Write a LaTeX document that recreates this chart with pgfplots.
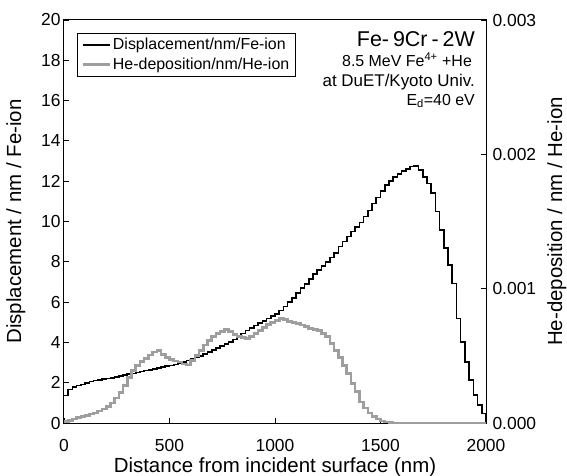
\documentclass[border=0pt]{standalone}
\usepackage{fontspec}
\setmainfont{Liberation Sans}
\usepackage{pgfplots}
\usepackage{pgfplotstable}
\pgfplotsset{compat=1.18}
\definecolor{hegray}{RGB}{158,158,158}

\pgfplotstableread{
x y
0 1.36
20 1.67
40 1.80
60 1.87
80 1.92
100 2.00
120 2.05
140 2.10
160 2.13
180 2.17
200 2.20
220 2.24
240 2.28
260 2.33
280 2.37
300 2.42
320 2.46
340 2.51
360 2.56
380 2.60
400 2.64
420 2.68
440 2.72
460 2.78
480 2.82
500 2.86
520 2.90
540 2.96
560 3.03
580 3.10
600 3.18
620 3.25
640 3.33
660 3.41
680 3.52
700 3.62
720 3.72
740 3.82
760 3.92
780 4.03
800 4.14
820 4.25
840 4.45
860 4.60
880 4.72
900 4.84
920 4.95
940 5.06
960 5.18
980 5.30
1000 5.42
1020 5.58
1040 5.78
1060 6.00
1080 6.20
1100 6.45
1120 6.70
1140 6.90
1160 7.15
1180 7.40
1200 7.60
1220 7.80
1240 8.00
1260 8.22
1280 8.45
1300 8.75
1320 9.00
1340 9.25
1360 9.50
1380 9.72
1400 9.95
1420 10.25
1440 10.55
1460 10.90
1480 11.20
1500 11.50
1520 11.80
1540 12.00
1560 12.20
1580 12.35
1600 12.50
1620 12.62
1640 12.72
1660 12.75
1680 12.56
1700 12.22
1720 11.89
1740 11.40
1760 10.49
1780 9.58
1800 8.67
1820 7.84
1840 6.93
1860 5.19
1880 4.03
1900 3.04
1920 2.13
1940 1.39
1960 0.89
1980 0.48
2000 0.0
}\dispdata

\pgfplotstableread{
x y
0 0.0000105
20 0.000018
40 0.000030
60 0.0000405
80 0.0000495
100 0.000057
120 0.000066
140 0.000075
160 0.000090
180 0.000105
200 0.000123
220 0.000150
240 0.0001875
260 0.000225
280 0.0002775
300 0.0003375
320 0.000390
340 0.0004275
360 0.000456
380 0.000480
400 0.0005055
420 0.000528
440 0.0005385
460 0.000510
480 0.0004875
500 0.0004725
520 0.000462
540 0.000453
560 0.000438
580 0.000432
600 0.000465
620 0.0005025
640 0.000540
660 0.0005805
680 0.000615
700 0.000645
720 0.0006675
740 0.0006825
760 0.0006975
780 0.0006825
800 0.000660
820 0.000645
840 0.0006375
860 0.000630
880 0.000645
900 0.0006675
920 0.000690
940 0.0007125
960 0.000732
980 0.000750
1000 0.000765
1020 0.0007785
1040 0.0007725
1060 0.0007575
1080 0.000750
1100 0.0007425
1120 0.000729
1140 0.000720
1160 0.000705
1180 0.0006975
1200 0.000687
1220 0.0006675
1240 0.000645
1260 0.0005925
1280 0.000540
1300 0.0004875
1320 0.0004275
1340 0.0003705
1360 0.0002925
1380 0.0002325
1400 0.0001575
1420 0.0001125
1440 0.000075
1460 0.000048
1480 0.000030
1500 0.000015
1520 0.0000075
1540 0.000003
1560 0.0
1600 0.0
1700 0.0
1800 0.0
1900 0.0
2000 0.0
}\hedata

\begin{document}
\begin{tikzpicture}
\path[use as bounding box] (-64bp,-53bp) rectangle (503bp,423bp);
\begin{axis}[
  at={(0,0)}, anchor=south west,
  scale only axis, width=422bp, height=403bp,
  xmin=0, xmax=2000, ymin=0, ymax=20,
  xtick={0,500,...,2000}, ytick={0,2,...,20},
  xtick pos=bottom, ytick pos=left,
  xtick align=inside, ytick align=inside,
  major tick length=5bp,
  axis line style={line width=1bp},
  every tick/.style={black, line width=0.8bp},
  /pgf/number format/assume math mode=true,
  /pgf/number format/1000 sep={},
  tick label style={font=\fontsize{17.5}{20}\selectfont},
  xticklabel style={yshift=-13bp},
  xlabel={Distance from incident surface (nm)},
  ylabel={Displacement / nm / Fe-ion},
  every axis x label/.style={at={(axis description cs:0.5,-0.109)}, anchor=center},
  every axis y label/.style={at={(axis description cs:-0.114,0.5)}, rotate=90, anchor=center},
  label style={font=\fontsize{20.5}{24}\selectfont},
  legend style={at={(0.031,0.968)}, anchor=north west, draw=black, line width=0.6bp,
    font=\fontsize{16}{19}\selectfont, inner xsep=4bp, inner ysep=3bp, row sep=3bp},
  legend cell align=left,
  legend image code/.code={\draw[#1] (0bp,0bp) -- (27bp,0bp);},
]
\addplot[const plot mark left, black, line width=1.6bp] table[x=x,y=y] {\dispdata};
\addlegendentry{Displacement/nm/Fe-ion}
\addlegendimage{hegray, line width=2.6bp}
\addlegendentry{He-deposition/nm/He-ion}
\node[anchor=base east, font=\fontsize{21.5}{24}\selectfont, inner sep=0pt] at (rel axis cs:0.974,0.935) {Fe-\hspace{4bp}9Cr\hspace{4bp}-\hspace{4bp}2W};
\node[anchor=base east, font=\fontsize{16}{19}\selectfont, inner sep=0pt] at (rel axis cs:0.967,0.884) {8.5 MeV Fe\textsuperscript{4+} +He};
\node[anchor=base east, font=\fontsize{17}{19}\selectfont, inner sep=0pt] at (rel axis cs:0.974,0.834) {at DuET/Kyoto Univ.};
\node[anchor=base east, font=\fontsize{16}{19}\selectfont, inner sep=0pt] at (rel axis cs:0.974,0.789) {E\textsubscript{d}=40 eV};
\end{axis}
\begin{axis}[
  at={(0,0)}, anchor=south west,
  scale only axis, width=422bp, height=403bp,
  xmin=0, xmax=2000, ymin=0, ymax=0.003,
  hide x axis,
  axis y line*=right,
  ytick={0,0.001,0.002,0.003},
  scaled y ticks=false,
  ytick align=inside,
  major tick length=5bp,
  axis line style={line width=1bp},
  every tick/.style={black, line width=0.8bp},
  /pgf/number format/assume math mode=true,
  yticklabel style={xshift=3bp, font=\fontsize{17.5}{20}\selectfont, /pgf/number format/.cd, fixed, fixed zerofill, precision=3},
  ylabel={He-deposition / nm / He-ion},
  every axis y label/.style={at={(axis description cs:1.168,0.5)}, rotate=90, anchor=center},
  label style={font=\fontsize{20.5}{24}\selectfont},
]
\addplot[const plot mark left, hegray, line width=2.6bp] table[x=x,y=y] {\hedata};
\end{axis}
\end{tikzpicture}
\end{document}
